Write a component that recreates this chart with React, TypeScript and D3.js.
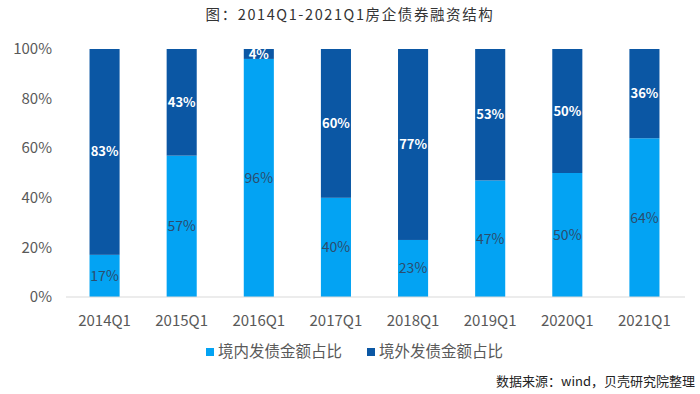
import React, { useEffect, useRef } from 'react';
import * as d3 from 'd3';

const categories = ['2014Q1', '2015Q1', '2016Q1', '2017Q1', '2018Q1', '2019Q1', '2020Q1', '2021Q1'];
const domestic = [17, 57, 96, 40, 23, 47, 50, 64];
const overseas = [83, 43, 4, 60, 77, 53, 50, 36];
const yTicks = [0, 20, 40, 60, 80, 100];
const seriesNames = ['境内发债金额占比', '境外发债金额占比'];

const FONT = '"Noto Sans CJK SC", "Noto Sans", sans-serif';
const LIGHT = '#03a3f3';
const DARK = '#0b57a4';

export default function App() {
  const ref = useRef<SVGSVGElement | null>(null);

  useEffect(() => {
    const svg = d3.select(ref.current);
    svg.selectAll('*').remove();

    const width = 700;
    const height = 394;
    const margin = { top: 49, left: 66, bottom: 97, right: 17 };
    const iheight = height - margin.top - margin.bottom;

    svg.attr('width', width).attr('height', height).style('font-family', FONT);

    svg.append('rect').attr('width', width).attr('height', height).attr('fill', '#fff');

    svg.append('text')
      .attr('x', width / 2)
      .attr('y', 20)
      .attr('text-anchor', 'middle')
      .style('font-size', '14.5px')
      .style('letter-spacing', '1.6px')
      .attr('fill', '#333')
      .text('图：2014Q1-2021Q1房企债券融资结构');

    const x = d3.scaleBand()
      .domain(categories)
      .range([margin.left, width - margin.right])
      .paddingInner(0.61)
      .paddingOuter(0.305);

    const y = d3.scaleLinear()
      .domain([0, 100])
      .range([margin.top + iheight, margin.top]);

    // y tick labels
    svg.append('g').selectAll('text').data(yTicks).enter().append('text')
      .attr('x', 52)
      .attr('y', d => y(d))
      .attr('dy', '0.35em')
      .attr('text-anchor', 'end')
      .style('font-size', '15px')
      .attr('fill', '#595959')
      .text(d => d + '%');

    const rows = categories.map((c, i) => ({ c, a: domestic[i], b: overseas[i] }));

    const g = svg.append('g');
    g.selectAll('rect.dom').data(rows).enter().append('rect')
      .attr('class', 'dom')
      .attr('x', d => x(d.c)!)
      .attr('width', x.bandwidth())
      .attr('y', d => y(d.a))
      .attr('height', d => y(0) - y(d.a))
      .attr('fill', LIGHT);

    g.selectAll('rect.ovs').data(rows).enter().append('rect')
      .attr('class', 'ovs')
      .attr('x', d => x(d.c)!)
      .attr('width', x.bandwidth())
      .attr('y', d => y(d.a + d.b))
      .attr('height', d => y(d.a) - y(d.a + d.b))
      .attr('fill', DARK);

    // labels
    g.selectAll('text.dl').data(rows).enter().append('text')
      .attr('x', d => x(d.c)! + x.bandwidth() / 2)
      .attr('y', d => y(d.a / 2))
      .attr('dy', '0.35em')
      .attr('text-anchor', 'middle')
      .style('font-size', '14px')
      .attr('fill', '#2b4d6e')
      .text(d => d.a + '%');

    g.selectAll('text.ol').data(rows).enter().append('text')
      .attr('x', d => x(d.c)! + x.bandwidth() / 2)
      .attr('y', d => y(d.a + d.b / 2))
      .attr('dy', '0.35em')
      .attr('text-anchor', 'middle')
      .style('font-size', '13px')
      .style('font-weight', 'bold')
      .attr('fill', '#fff')
      .text(d => d.b + '%');

    // x axis line
    svg.append('line')
      .attr('x1', margin.left).attr('x2', width - 15)
      .attr('y1', y(0)).attr('y2', y(0))
      .attr('stroke', '#d9d9d9').attr('stroke-width', 1);

    svg.append('g').selectAll('text').data(categories).enter().append('text')
      .attr('x', d => x(d)! + x.bandwidth() / 2)
      .attr('y', 321)
      .attr('dy', '0.35em')
      .attr('text-anchor', 'middle')
      .style('font-size', '15px')
      .attr('fill', '#595959')
      .text(d => d);

    // legend
    const legendX = [206, 367];
    const legend = svg.append('g');
    seriesNames.forEach((n, i) => {
      legend.append('rect')
        .attr('x', legendX[i]).attr('y', 348)
        .attr('width', 8).attr('height', 8)
        .attr('fill', i === 0 ? LIGHT : DARK);
      legend.append('text')
        .attr('x', legendX[i] + 12).attr('y', 352)
        .attr('dy', '0.35em')
        .style('font-size', '15.5px')
        .attr('fill', '#595959')
        .text(n);
    });

    svg.append('text')
      .attr('x', 695)
      .attr('y', 386)
      .attr('text-anchor', 'end')
      .style('font-size', '13px')
      .attr('fill', '#222')
      .text('数据来源：wind，贝壳研究院整理');
  }, []);

  return <svg ref={ref} style={{ position: 'absolute', left: 0, top: 0, display: 'block' }}></svg>;
}
